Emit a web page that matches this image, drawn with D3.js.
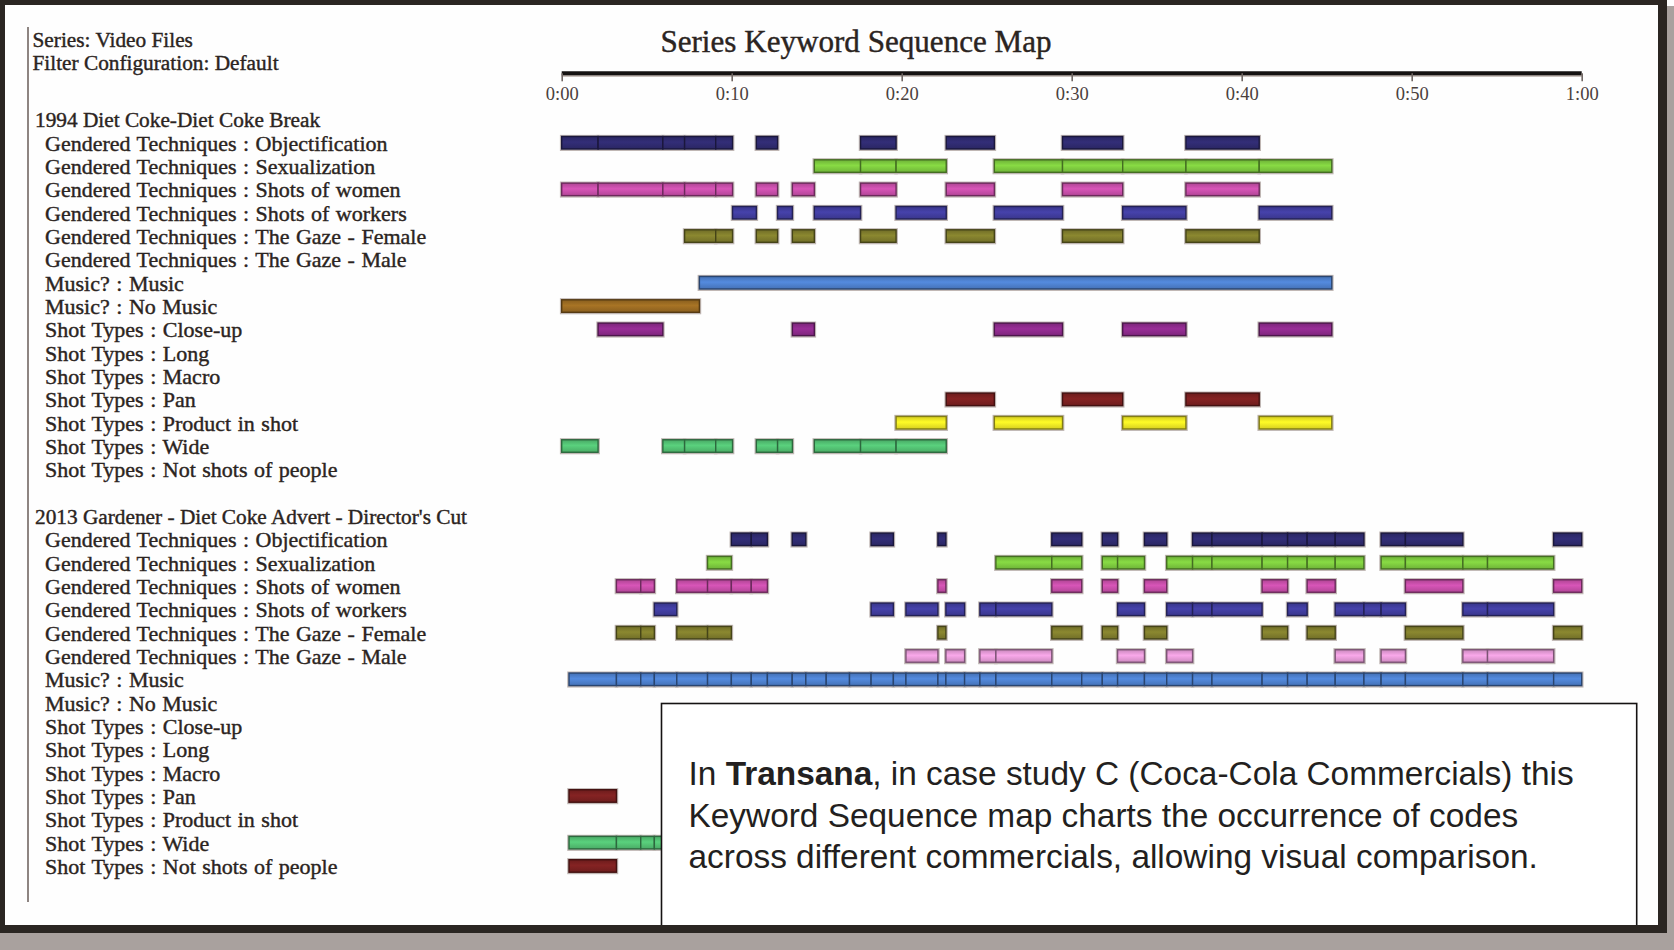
<!DOCTYPE html>
<html><head><meta charset="utf-8">
<script src="https://cdn.jsdelivr.net/npm/d3@7"></script>
<style>
html,body{margin:0;padding:0;background:#fff;overflow:hidden;}
svg{display:block;}
</style></head><body>
<svg id="chart" width="1674" height="950"></svg>
<script>
// ---------- data ----------
const seriesInfo = ["Series: Video Files", "Filter Configuration: Default"];
const chartTitle = "Series Keyword Sequence Map";
const tickValues = [0, 10, 20, 30, 40, 50, 60];
const tickLabels = ["0:00", "0:10", "0:20", "0:30", "0:40", "0:50", "1:00"];
const videos = ["1994 Diet Coke-Diet Coke Break", "2013 Gardener - Diet Coke Advert - Director's Cut"];
const keywords = [
  "Gendered Techniques : Objectification",
  "Gendered Techniques : Sexualization",
  "Gendered Techniques : Shots of women",
  "Gendered Techniques : Shots of workers",
  "Gendered Techniques : The Gaze - Female",
  "Gendered Techniques : The Gaze - Male",
  "Music? : Music",
  "Music? : No Music",
  "Shot Types : Close-up",
  "Shot Types : Long",
  "Shot Types : Macro",
  "Shot Types : Pan",
  "Shot Types : Product in shot",
  "Shot Types : Wide",
  "Shot Types : Not shots of people"
];
const keywordColors = ["#2f2a6e", "#7cc83e", "#c64ea8", "#403c9c", "#7f7c2c", "#e49ad6",
  "#4d7fcc", "#9a6a22", "#8c2a8a", "#888888", "#888888", "#7a2020", "#efe624", "#52bf72", "#7a2020"];

// video 1 segments [start s, end s]
const v1Objectification = [[0,2.14],[2.14,5.95],[5.95,7.23],[7.23,9.06],[9.06,10.05],[11.45,12.7],[17.58,19.67],[22.62,25.45],[29.46,33.0],[36.72,41.03]];
const v1Sexualization = [[14.86,17.58],[17.58,19.67],[19.67,22.62],[25.45,29.46],[29.46,33.0],[33.0,36.72],[36.72,41.03],[41.03,45.3]];
const v1Women = [[0,2.14],[2.14,5.95],[5.95,7.23],[7.23,9.06],[9.06,10.05],[11.45,12.7],[13.57,14.86],[17.58,19.67],[22.62,25.45],[29.46,33.0],[36.72,41.03]];
const v1Workers = [[10.05,11.45],[12.7,13.57],[14.86,17.58],[19.67,22.62],[25.45,29.46],[33.0,36.72],[41.03,45.3]];
const v1GazeFemale = [[7.23,9.06],[9.06,10.05],[11.45,12.7],[13.57,14.86],[17.58,19.67],[22.62,25.45],[29.46,33.0],[36.72,41.03]];
const v1GazeMale = [];
const v1Music = [[8.1,45.3]];
const v1NoMusic = [[0,8.1]];
const v1CloseUp = [[2.14,5.95],[13.57,14.86],[25.45,29.46],[33.0,36.72],[41.03,45.3]];
const v1Long = [];
const v1Macro = [];
const v1Pan = [[22.62,25.45],[29.46,33.0],[36.72,41.03]];
const v1Product = [[19.67,22.62],[25.45,29.46],[33.0,36.72],[41.03,45.3]];
const v1Wide = [[0,2.14],[5.95,7.23],[7.23,9.06],[9.06,10.05],[11.45,12.7],[12.7,13.57],[14.86,17.58],[17.58,19.67],[19.67,22.62]];
const v1NotPeople = [];

// video 2 segments
const v2Objectification = [[9.98,11.15],[11.15,12.1],[13.56,14.36],[18.2,19.51],[22.13,22.6],[28.83,30.59],[31.8,32.7],[34.28,35.59],[37.11,38.25],[38.25,41.2],[41.2,42.7],[42.7,43.85],[43.85,45.5],[45.5,47.19],[48.2,49.63],[49.63,53.01],[58.35,60]];
const v2Sexualization = [[8.58,9.98],[25.54,28.83],[28.83,30.59],[31.8,32.7],[32.7,34.28],[35.59,37.11],[37.11,38.25],[38.25,41.2],[41.2,42.7],[42.7,43.85],[43.85,45.5],[45.5,47.19],[48.2,49.63],[49.63,53.01],[53.01,54.46],[54.46,58.35]];
const v2Women = [[3.22,4.65],[4.65,5.45],[6.77,8.58],[8.58,9.98],[9.98,11.15],[11.15,12.1],[22.13,22.6],[28.83,30.59],[31.8,32.7],[34.28,35.59],[41.2,42.7],[43.85,45.5],[49.63,53.01],[58.35,60]];
const v2Workers = [[5.45,6.77],[18.2,19.51],[20.25,22.13],[22.6,23.7],[24.6,25.54],[25.54,28.83],[32.7,34.28],[35.59,37.11],[37.11,38.25],[38.25,41.2],[42.7,43.85],[45.5,47.19],[47.19,48.2],[48.2,49.63],[53.01,54.46],[54.46,58.35]];
const v2GazeFemale = [[3.22,4.65],[4.65,5.45],[6.77,8.58],[8.58,9.98],[22.13,22.6],[28.83,30.59],[31.8,32.7],[34.28,35.59],[41.2,42.7],[43.85,45.5],[49.63,53.01],[58.35,60]];
const v2GazeMale = [[20.25,22.13],[22.6,23.7],[24.6,25.54],[25.54,28.83],[32.7,34.28],[35.59,37.11],[45.5,47.19],[48.2,49.63],[53.01,54.46],[54.46,58.35]];
const v2Music = [[0.43,3.22],[3.22,4.65],[4.65,5.45],[5.45,6.77],[6.77,8.58],[8.58,9.98],[9.98,11.15],[11.15,12.1],[12.1,13.56],[13.56,14.36],[14.36,15.56],[15.56,16.93],[16.93,18.2],[18.2,19.51],[19.51,20.25],[20.25,22.13],[22.13,22.6],[22.6,23.7],[23.7,24.6],[24.6,25.54],[25.54,28.83],[28.83,30.59],[30.59,31.8],[31.8,32.7],[32.7,34.28],[34.28,35.59],[35.59,37.11],[37.11,38.25],[38.25,41.2],[41.2,42.7],[42.7,43.85],[43.85,45.5],[45.5,47.19],[47.19,48.2],[48.2,49.63],[49.63,53.01],[53.01,54.46],[54.46,58.35],[58.35,60]];
const v2NoMusic = [];
const v2CloseUp = [];
const v2Long = [];
const v2Macro = [];
const v2Pan = [[0.43,3.22]];
const v2Product = [];
const v2Wide = [[0.43,3.22],[3.22,4.65],[4.65,5.45],[5.45,6.77]];
const v2NotPeople = [[0.43,3.22]];

const captionLines = [
  [["In ", false], ["Transana", true], [", in case study C (Coca-Cola Commercials) this", false]],
  [["Keyword Sequence map charts the occurrence of codes", false]],
  [["across different commercials, allowing visual comparison.", false]]
];

const video1Rows = [v1Objectification, v1Sexualization, v1Women, v1Workers, v1GazeFemale, v1GazeMale, v1Music, v1NoMusic, v1CloseUp, v1Long, v1Macro, v1Pan, v1Product, v1Wide, v1NotPeople];
const video2Rows = [v2Objectification, v2Sexualization, v2Women, v2Workers, v2GazeFemale, v2GazeMale, v2Music, v2NoMusic, v2CloseUp, v2Long, v2Macro, v2Pan, v2Product, v2Wide, v2NotPeople];
const videoRows = [video1Rows, video2Rows];

// ---------- drawing ----------
const svg = d3.select("#chart");
const W = 1674, H = 950;
const textColor = "#2b2421";
const serif = "'Liberation Serif', 'Times New Roman', serif";

svg.append("rect").attr("width", W).attr("height", H).attr("fill", "#fefefe");

const x = d3.scaleLinear().domain([0, 60]).range([561.7, 1581.7]);
const rowY = d3.scaleLinear().domain([0, 32]).range([119.4, 119.4 + 32 * 23.33]);
const barH = 12.5;

// gradients per colour
const defs = svg.append("defs");
keywordColors.forEach((c, i) => {
  const g = defs.append("linearGradient").attr("id", "grad" + i)
    .attr("x1", 0).attr("y1", 0).attr("x2", 0).attr("y2", 1);
  const base = d3.color(c);
  g.append("stop").attr("offset", "0%").attr("stop-color", base.darker(0.35));
  g.append("stop").attr("offset", "45%").attr("stop-color", base.brighter(0.25));
  g.append("stop").attr("offset", "100%").attr("stop-color", base.darker(0.3));
});

// left edge line of the screenshot
svg.append("line").attr("x1", 28).attr("x2", 28).attr("y1", 27).attr("y2", 902)
  .attr("stroke", "#8e8582").attr("stroke-width", 2);

function serifText(sel, size) {
  return sel.attr("font-family", serif).attr("font-size", size).attr("fill", textColor)
    .attr("stroke", textColor).attr("stroke-width", 0.4);
}

// header info
seriesInfo.forEach((t, i) => {
  serifText(svg.append("text").attr("x", 32.5).attr("y", 46.5 + i * 23.5), 21.3).text(t);
});

// title
serifText(svg.append("text").attr("x", 856).attr("y", 51.5).attr("text-anchor", "middle"), 31.1)
  .text(chartTitle);

// axis
const axisG = svg.append("g").attr("transform", "translate(0,73.3)");
axisG.append("line").attr("x1", x(0)).attr("x2", x(60)).attr("y1", 2.6).attr("y2", 2.6)
  .attr("stroke", "#b7aca7").attr("stroke-width", 1.6);
const axis = d3.axisBottom(x).tickValues(tickValues)
  .tickFormat((d, i) => tickLabels[i]).tickSize(8).tickSizeOuter(0).tickPadding(6);
axisG.call(axis);
axisG.select(".domain").attr("stroke", "#151212").attr("stroke-width", 4)
  .attr("d", `M${x(0)},0H${x(60)}`);
axisG.selectAll(".tick line").attr("stroke", "#6f6663").attr("stroke-width", 1.6);
axisG.selectAll(".tick text").attr("font-family", serif).attr("font-size", 18.5)
  .attr("fill", "#4a403d");

// labels and bars
videos.forEach((v, g) => {
  const base = g * 17;
  serifText(svg.append("text").attr("x", 35).attr("y", rowY(base) + 7.5), 21.3).text(v);
  keywords.forEach((k, ki) => {
    const yc = rowY(base + 1 + ki);
    serifText(svg.append("text").attr("x", 45).attr("y", yc + 8), 22)
      .attr("word-spacing", 1).text(k);
    const segs = videoRows[g][ki];
    const row = svg.append("g");
    row.selectAll("rect.halo").data(segs).join("rect").attr("class", "halo")
      .attr("x", d => x(d[0]) - 1.8).attr("y", yc - barH / 2 - 1.6)
      .attr("width", d => x(d[1]) - x(d[0]) + 3.6).attr("height", barH + 3.6)
      .attr("fill", "#bfb6b3");
    row.selectAll("rect.bar").data(segs).join("rect").attr("class", "bar")
      .attr("x", d => x(d[0])).attr("y", yc - barH / 2)
      .attr("width", d => x(d[1]) - x(d[0])).attr("height", barH)
      .attr("fill", `url(#grad${ki})`)
      .attr("stroke", d3.color(keywordColors[ki]).darker(1.7))
      .attr("stroke-width", 1.4);
  });
});

// caption box overlay
svg.append("rect").attr("x", 661.5).attr("y", 703.5).attr("width", 975.2).attr("height", 240)
  .attr("fill", "#ffffff").attr("stroke", "#151212").attr("stroke-width", 1.6);
captionLines.forEach((line, i) => {
  const t = svg.append("text").attr("x", 688.5).attr("y", 785 + i * 41.6)
    .attr("font-family", "'Liberation Sans', Arial, sans-serif").attr("font-size", 33.4)
    .attr("fill", "#231f20");
  line.forEach(([s, b]) => t.append("tspan").attr("font-weight", b ? "bold" : "normal").text(s));
});

// frame
const frame = svg.append("g");
frame.append("rect").attr("x", 0).attr("y", 933).attr("width", W).attr("height", 17).attr("fill", "#a9a19e");
frame.append("rect").attr("x", 1667).attr("y", 6).attr("width", 7).attr("height", H).attr("fill", "#a9a19e");
frame.append("rect").attr("x", 0).attr("y", 0).attr("width", 1667).attr("height", 5).attr("fill", "#2b2622");
frame.append("rect").attr("x", 0).attr("y", 0).attr("width", 5).attr("height", 933).attr("fill", "#2b2622");
frame.append("rect").attr("x", 1658).attr("y", 0).attr("width", 9).attr("height", 933).attr("fill", "#2b2622");
frame.append("rect").attr("x", 0).attr("y", 925).attr("width", 1667).attr("height", 8).attr("fill", "#2b2622");
</script>
</body></html>
